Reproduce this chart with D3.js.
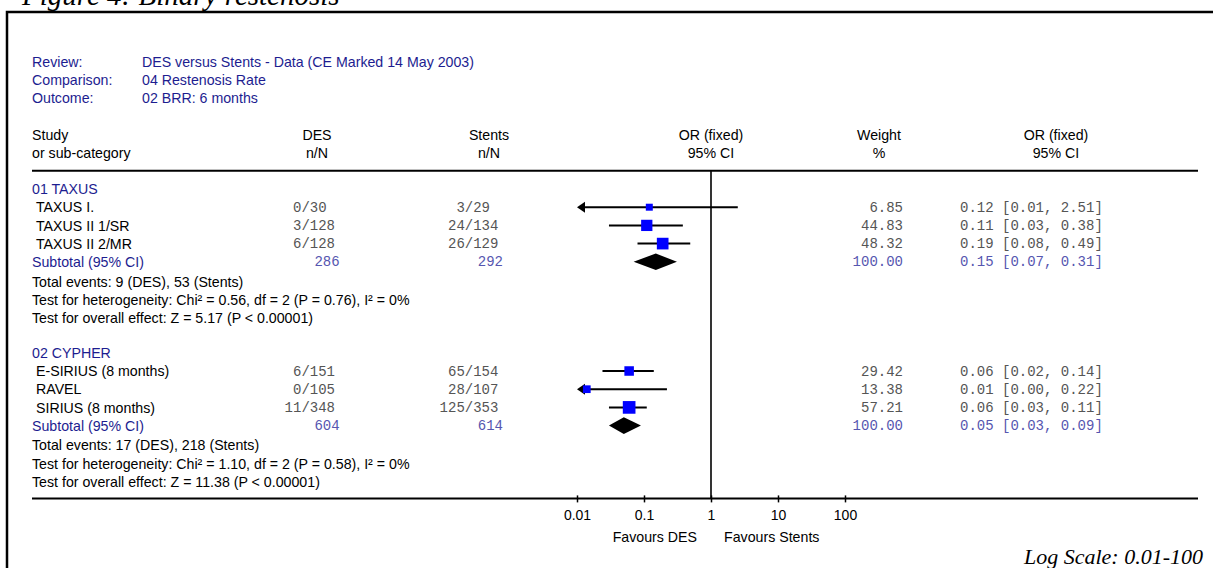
<!DOCTYPE html>
<html>
<head>
<meta charset="utf-8">
<script src="https://cdn.jsdelivr.net/npm/d3@7"></script>
<style>
    body { margin: 0; background: #fff; }
    svg { display: block; }
    .sans { font-family: "Liberation Sans", Arial, sans-serif; font-size: 14.2px; }
    .mono { font-family: "Liberation Mono", "Courier New", monospace; font-size: 14px; }
</style>
</head>
<body>
<div id="chart"></div>
<script>

// review info
var infoLabels = ["Review:", "Comparison:", "Outcome:"];
var infoValues = ["DES versus Stents - Data (CE Marked 14 May 2003)", "04 Restenosis Rate", "02 BRR: 6 months"];

// sub-categories
var groups = ["01 TAXUS", "02 CYPHER"];

// studies
var studies = ["TAXUS I.", "TAXUS II 1/SR", "TAXUS II 2/MR", "E-SIRIUS (8 months)", "RAVEL", "SIRIUS (8 months)"];
var studyGroup = [0, 0, 0, 1, 1, 1];
var desEvents = [0, 3, 6, 6, 0, 11];
var desTotal = [30, 128, 128, 151, 105, 348];
var stentEvents = [3, 24, 26, 65, 28, 125];
var stentTotal = [29, 134, 129, 154, 107, 353];
var weights = [6.85, 44.83, 48.32, 29.42, 13.38, 57.21];
var orEst = [0.12, 0.11, 0.19, 0.06, 0.014, 0.06];
var orLow = [0.006, 0.03, 0.08, 0.024, 0.001, 0.03];
var orHigh = [2.51, 0.38, 0.49, 0.14, 0.22, 0.11];

// subtotals
var subDesTotal = [286, 604];
var subStentTotal = [292, 614];
var subWeight = [100, 100];
var subOr = [0.15, 0.05];
var subLow = [0.07, 0.03];
var subHigh = [0.31, 0.09];
var subDesEvents = [9, 17];
var subStentEvents = [53, 218];
var hetChi = ["0.56", "1.10"];
var hetDf = [2, 2];
var hetP = ["0.76", "0.58"];
var hetI2 = [0, 0];
var effectZ = ["5.17", "11.38"];
var effectP = ["P < 0.00001", "P < 0.00001"];

// axis
var tickValues = [0.01, 0.1, 1, 10, 100];

var blue = "#1d1d90", monoBlue = "#5656b0", grey = "#555555";
var cw = 14 * 0.6;   // mono char width

var svg = d3.select("#chart").append("svg")
    .attr("width", 1213)
    .attr("height", 568);

// frame + caption
svg.append("rect")
    .attr("x", 7).attr("y", 12)
    .attr("width", 1260).attr("height", 600)
    .attr("fill", "none")
    .attr("stroke", "#000")
    .attr("stroke-width", 2.5);

svg.append("text")
    .attr("x", 22).attr("y", 5)
    .style("font-family", "'Liberation Serif', 'Times New Roman', serif")
    .style("font-style", "italic")
    .style("font-size", "29px")
    .text("Figure 4: Binary restenosis");

svg.append("text")
    .attr("x", 1203).attr("y", 564)
    .attr("text-anchor", "end")
    .style("font-family", "'Liberation Serif', 'Times New Roman', serif")
    .style("font-style", "italic")
    .style("font-size", "22px")
    .text("Log Scale: 0.01-100");

// scales
var row = d3.scaleLinear().domain([0, 17]).range([189, 498.4]);
var x = d3.scaleLog().domain([0.01, 100]).range([577, 845]);
var boxSize = d3.scaleLinear().domain([0, 100]).range([6.2, 17.5]);

var left = 32, right = 1198;
var desSlash = 305.6, stentSlash = 469;

function sansText(xp, yp, txt, color, anchor) {
    return svg.append("text")
        .attr("class", "sans")
        .attr("x", xp).attr("y", yp)
        .attr("dy", "0.36em")
        .attr("text-anchor", anchor || "start")
        .attr("fill", color || "#000")
        .text(txt);
}

function monoText(xp, yp, txt, color, anchor) {
    return svg.append("text")
        .attr("class", "mono")
        .attr("x", xp).attr("y", yp)
        .attr("dy", "0.33em")
        .attr("text-anchor", anchor || "start")
        .attr("fill", color || grey)
        .text(txt);
}

// n/N aligned on the slash
function fracText(slash, yp, n, N) {
    var s = n + "/" + N;
    monoText(slash - (String(n).length + 0.5) * cw, yp, s);
}

// review info
infoLabels.forEach(function(d, i) {
    sansText(left, row(-7 + i), d, blue);
    sansText(142, row(-7 + i), infoValues[i], blue);
});

// column headers
sansText(left, row(-3), "Study");
sansText(left, row(-2), "or sub-category");
sansText(317, row(-3), "DES", "#000", "middle");
sansText(317, row(-2), "n/N", "#000", "middle");
sansText(489, row(-3), "Stents", "#000", "middle");
sansText(489, row(-2), "n/N", "#000", "middle");
sansText(x(1), row(-3), "OR (fixed)", "#000", "middle");
sansText(x(1), row(-2), "95% CI", "#000", "middle");
sansText(879, row(-3), "Weight", "#000", "middle");
sansText(879, row(-2), "%", "#000", "middle");
sansText(1056, row(-3), "OR (fixed)", "#000", "middle");
sansText(1056, row(-2), "95% CI", "#000", "middle");

// rules
svg.append("line")
    .attr("x1", left).attr("x2", right)
    .attr("y1", row(-1)).attr("y2", row(-1))
    .attr("stroke", "#000").attr("stroke-width", 2);

svg.append("line")
    .attr("x1", left).attr("x2", right)
    .attr("y1", row(17)).attr("y2", row(17))
    .attr("stroke", "#000").attr("stroke-width", 2);

// line of no effect
svg.append("line")
    .attr("x1", x(1)).attr("x2", x(1))
    .attr("y1", row(-1)).attr("y2", row(17))
    .attr("stroke", "#000").attr("stroke-width", 1.6);

var fmt = d3.format(".2f");

groups.forEach(function(g, gi) {
    var base = gi * 9;
    sansText(left, row(base), g, blue);

    var idx = studies.map(function(s, i) { return i; })
        .filter(function(i) { return studyGroup[i] === gi; });

    idx.forEach(function(i, k) {
        var yp = row(base + 1 + k);
        sansText(36, yp, studies[i]);
        fracText(desSlash, yp, desEvents[i], desTotal[i]);
        fracText(stentSlash, yp, stentEvents[i], stentTotal[i]);
        monoText(903, yp, fmt(weights[i]), grey, "end");
        monoText(960, yp, fmt(orEst[i]) + " [" + fmt(orLow[i]) + ", " + fmt(orHigh[i]) + "]");

        // CI line, arrow when clipped
        var lo = Math.max(orLow[i], 0.01);
        var clipped = orLow[i] < 0.01;
        svg.append("line")
            .attr("x1", x(lo) + (clipped ? 6 : 0)).attr("x2", x(orHigh[i]))
            .attr("y1", yp).attr("y2", yp)
            .attr("stroke", "#000").attr("stroke-width", 2);
        if (clipped) {
            svg.append("path")
                .attr("d", "M" + x(lo) + "," + yp + "l8,-5.5v11z")
                .attr("fill", "#000");
        }
        var s = boxSize(weights[i]);
        svg.append("rect")
            .attr("x", x(orEst[i]) - s / 2).attr("y", yp - s / 2)
            .attr("width", s).attr("height", s)
            .attr("fill", "#0000ff");
    });

    // subtotal
    var ys = row(base + 4);
    sansText(left, ys, "Subtotal (95% CI)", blue);
    monoText(desSlash + 34, ys, subDesTotal[gi], monoBlue, "end");
    monoText(stentSlash + 34, ys, subStentTotal[gi], monoBlue, "end");
    monoText(903, ys, fmt(subWeight[gi]), monoBlue, "end");
    monoText(960, ys, fmt(subOr[gi]) + " [" + fmt(subLow[gi]) + ", " + fmt(subHigh[gi]) + "]", monoBlue);

    svg.append("path")
        .attr("d", "M" + x(subLow[gi]) + "," + ys +
            "L" + x(subOr[gi]) + "," + (ys - 8.3) +
            "L" + x(subHigh[gi]) + "," + ys +
            "L" + x(subOr[gi]) + "," + (ys + 8.3) + "Z")
        .attr("fill", "#000");

    // notes
    sansText(left, row(base + 5) + 1.5, "Total events: " + subDesEvents[gi] + " (DES), " + subStentEvents[gi] + " (Stents)");
    sansText(left, row(base + 6) + 1.5, "Test for heterogeneity: Chi\u00b2 = " + hetChi[gi] + ", df = " + hetDf[gi] +
        " (P = " + hetP[gi] + "), I\u00b2 = " + hetI2[gi] + "%");
    sansText(left, row(base + 7) + 1.5, "Test for overall effect: Z = " + effectZ[gi] + " (" + effectP[gi] + ")");
});

// x axis
var xAxis = d3.axisBottom(x)
    .tickValues(tickValues)
    .tickFormat(function(d) { return d; })
    .tickSize(4);

var axisG = svg.append("g")
    .attr("transform", "translate(0," + row(17) + ")")
    .call(xAxis);

axisG.select(".domain").remove();
axisG.selectAll(".tick line")
    .attr("y1", -3).attr("y2", 4)
    .attr("stroke-width", 1.5);
axisG.selectAll(".tick text")
    .attr("y", 12)
    .style("font-family", "'Liberation Sans', Arial, sans-serif")
    .style("font-size", "14px");

sansText(697, 537, "Favours DES", "#000", "end");
sansText(724, 537, "Favours Stents");

</script>
</body>
</html>
